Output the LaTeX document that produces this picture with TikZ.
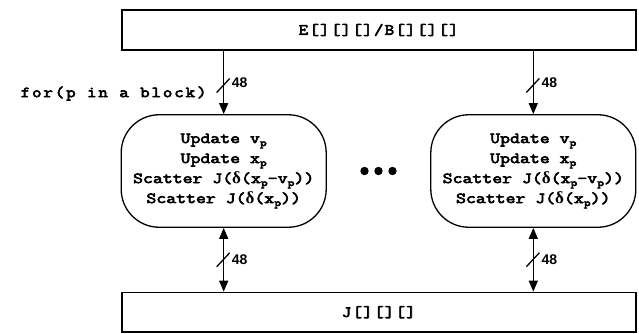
\documentclass[tikz,border=0pt]{standalone}
\usepackage{fontspec}
\setmainfont{Liberation Sans}
\newfontfamily\cour[FakeStretch=1.25,FakeBold=4]{Latin Modern Mono}
\newfontfamily\courwide[FakeStretch=1.2,FakeBold=4,LetterSpace=8]{Latin Modern Mono}
\newfontfamily\courfor[FakeStretch=1.2,FakeBold=4,LetterSpace=12]{Latin Modern Mono}
\newfontfamily\grk{Liberation Serif}
\usetikzlibrary{arrows.meta}
\newcommand\psub{\raisebox{-0.45ex}{\fontsize{10.5}{10}\selectfont p}}
\newcommand\dlt{{\grk\bfseries\fontsize{17}{17}\selectfont δ}}
\begin{document}
\begin{tikzpicture}[x=1pt,y=-1pt,
  bigbox/.style={draw, line width=1.6pt, minimum width=514pt, minimum height=39.5pt, inner sep=0pt,
     font=\courwide\fontsize{15.4}{18}\selectfont},
  ubox/.style={draw, line width=1.3pt, rounded corners=38pt, minimum width=205pt, minimum height=112.5pt,
     align=center, inner sep=0pt, font=\cour\fontsize{15.4}{20}\selectfont},
  arr/.style={line width=1.5pt, -{Triangle[length=11pt,width=9pt]}},
  darr/.style={line width=1.5pt, {Triangle[length=11pt,width=9pt]}-{Triangle[length=11pt,width=9pt]}},
  slashln/.style={line width=1.3pt},
  lbl/.style={font=\bfseries\fontsize{14}{14}\selectfont, inner sep=0pt, anchor=west}
]
\useasboundingbox (0,0) rectangle (639,334);
\node[bigbox] (eb) at (378.7,30) {E[][][]/B[][][]};
\node[bigbox] (jb) at (378.8,312.2) {J[][][]};
\node[ubox] (u1) at (223.7,171) {Update v\psub\\Update x\psub\\Scatter J(\dlt(x\psub-v\psub))\\Scatter J(\dlt(x\psub))};
\node[ubox] (u2) at (533.3,171) {Update v\psub\\Update x\psub\\Scatter J(\dlt(x\psub-v\psub))\\Scatter J(\dlt(x\psub))};
% top arrows
\draw[arr] (eb.south -| u1) -- coordinate[pos=0.55] (s1) (u1.north);
\draw[arr] (eb.south -| u2) -- coordinate[pos=0.55] (s2) (u2.north);
% bottom arrows
\draw[darr] (u1.south) -- coordinate[pos=0.5] (s3) (jb.north -| u1);
\draw[darr] (u2.south) -- coordinate[pos=0.5] (s4) (jb.north -| u2);
% slashes and labels
\foreach \s/\dy in {s1/-3,s2/-3,s3/0,s4/0}{
  \draw[slashln] ([shift={(-7,7)}]\s) -- ([shift={(6,-7)}]\s);
  \node[lbl] (l\s) at ([shift={(8,\dy)}]\s) {48};
}
\node[font=\courfor\fontsize{15.4}{18}\selectfont, anchor=east, inner sep=0pt] (forlbl) at ([shift={(-17,8)}]s1) {for(p in a block)};
% dots
\fill (364.5,171) circle (4.2);
\fill (378.5,171) circle (4.2);
\fill (392.5,171) circle (4.2);
\end{tikzpicture}
\end{document}
